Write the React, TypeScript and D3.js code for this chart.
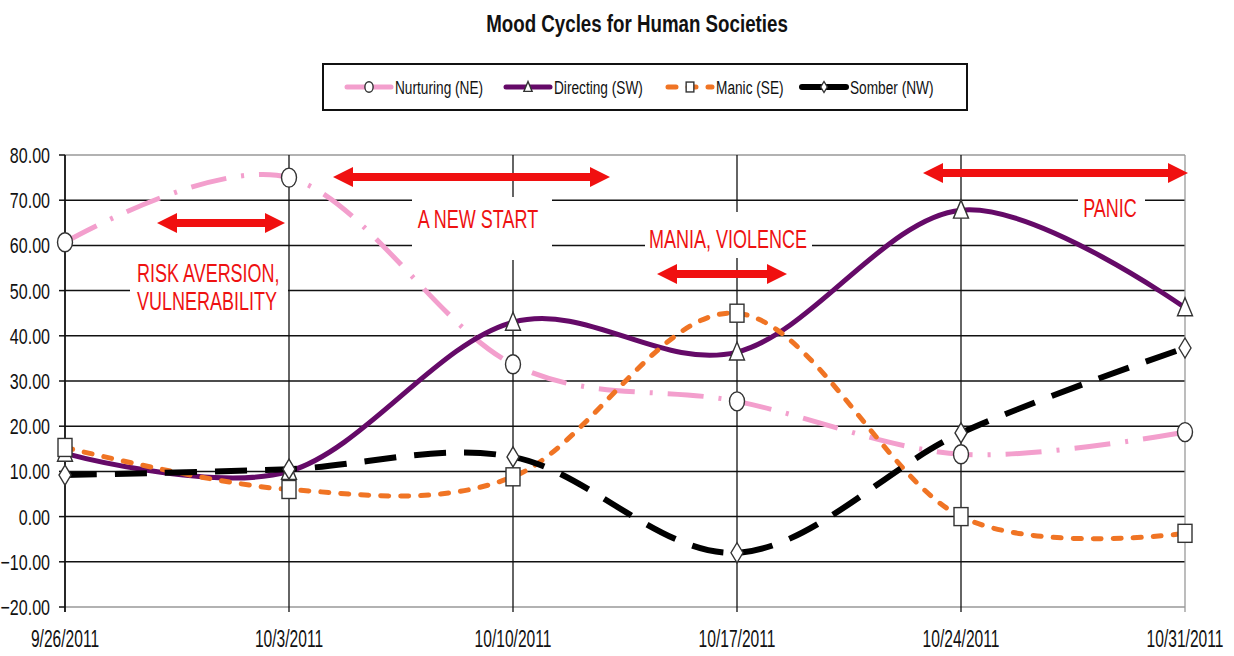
import { useEffect, useRef } from 'react';
import * as d3 from 'd3';

// chart values
const dates = ['2011-09-26', '2011-10-03', '2011-10-10', '2011-10-17', '2011-10-24', '2011-10-31'];
const nurturing = [60.7, 75.0, 33.7, 25.5, 13.8, 18.7];
const directing = [14.0, 10.0, 43.0, 36.4, 67.8, 46.2];
const manic = [15.3, 6.0, 8.8, 45.0, 0.0, -3.7];
const somber = [9.2, 10.5, 13.2, -8.0, 18.5, 37.3];
const seriesNames = ['Nurturing (NE)', 'Directing (SW)', 'Manic (SE)', 'Somber (NW)'];
const yTicks = [-20, -10, 0, 10, 20, 30, 40, 50, 60, 70, 80];
const title = 'Mood Cycles for Human Societies';

const annotations = [
  { lines: ['RISK AVERSION,', 'VULNERABILITY'], box: [130, 255, 158, 62], tx: 137, ty: 282, anchor: 'start' },
  { lines: ['A NEW START'], box: [412, 197, 140, 63], tx: 478, ty: 228, anchor: 'middle' },
  { lines: ['MANIA, VIOLENCE'], box: [645, 212, 167, 46], tx: 728, ty: 248, anchor: 'middle' },
  { lines: ['PANIC'], box: [1078, 188, 67, 35], tx: 1110, ty: 217, anchor: 'middle' },
];
const arrows = [
  [157, 285, 223],
  [333, 610, 177],
  [657, 787, 274],
  [923, 1188, 173],
];

const W = 1234;
const H = 656;
const SX = 0.73; // the reference text is horizontally condensed
const FONT = '"Liberation Sans", Arial, sans-serif';

const styles = [
  { color: '#f39fcd', width: 5, dash: '36,15,3,15', cap: 'butt', marker: 'circle' },
  { color: '#650a68', width: 5, dash: null, cap: 'round', marker: 'triangle' },
  { color: '#f07424', width: 5, dash: '8,12', cap: 'round', marker: 'square' },
  { color: '#000000', width: 6, dash: '32,18', cap: 'butt', marker: 'diamond' },
];

function addText(g, x, y, str, size, opts = {}) {
  return g
    .append('text')
    .attr('transform', `translate(${x},${y}) scale(${opts.sx ?? SX},1)`)
    .attr('text-anchor', opts.anchor || 'start')
    .style('font-family', FONT)
    .style('font-size', size + 'px')
    .style('font-weight', opts.bold ? 'bold' : 'normal')
    .style('fill', opts.fill || '#111')
    .text(str);
}

function drawMarker(g, type, cx, cy, k = 1) {
  let m;
  if (type === 'circle') {
    m = g.append('ellipse').attr('cx', cx).attr('cy', cy).attr('rx', 7.5 * k).attr('ry', 9.5 * k);
  } else if (type === 'triangle') {
    m = g.append('path').attr('d', `M${cx},${cy - 10 * k}L${cx + 7.5 * k},${cy + 8 * k}L${cx - 7.5 * k},${cy + 8 * k}Z`);
  } else if (type === 'square') {
    m = g.append('rect').attr('x', cx - 7 * k).attr('y', cy - 9 * k).attr('width', 14 * k).attr('height', 18 * k);
  } else {
    m = g.append('path').attr('d', `M${cx},${cy - 10 * k}L${cx + 6 * k},${cy}L${cx},${cy + 10 * k}L${cx - 6 * k},${cy}Z`);
  }
  m.attr('fill', 'white').attr('stroke', '#333').attr('stroke-width', 1.4);
}

const App = () => {
  const svgRef = useRef(null);

  useEffect(() => {
    const svg = d3.select(svgRef.current);
    svg.selectAll('*').remove();

    const parse = d3.timeParse('%Y-%m-%d');
    const xDates = dates.map(parse);
    const x = d3.scaleTime().domain(d3.extent(xDates)).range([65, 1185]);
    const y = d3.scaleLinear().domain([-20, 80]).range([607, 155]);
    const fmtDate = d3.timeFormat('%-m/%-d/%Y');
    const fmtY = d3.format('.2f');

    svg.append('rect').attr('width', W).attr('height', H).attr('fill', 'white');

    // Title
    addText(svg, 637, 32, title, 24, { anchor: 'middle', bold: true, sx: 0.78 });

    // Grid
    const grid = svg.append('g');
    yTicks.forEach(v => {
      const edge = v === 80 || v === -20;
      grid.append('line')
        .attr('x1', 65).attr('x2', 1185)
        .attr('y1', y(v)).attr('y2', y(v))
        .attr('stroke', edge ? '#999' : '#111')
        .attr('stroke-width', 1.5);
      grid.append('line')
        .attr('x1', 59).attr('x2', 65)
        .attr('y1', y(v)).attr('y2', y(v))
        .attr('stroke', '#111').attr('stroke-width', 1.5);
      addText(grid, 50, y(v) + 8, fmtY(v), 22, { anchor: 'end' });
    });
    xDates.forEach((d, i) => {
      const last = i === xDates.length - 1;
      grid.append('line')
        .attr('x1', x(d)).attr('x2', x(d))
        .attr('y1', 155).attr('y2', 612)
        .attr('stroke', last ? '#999' : '#111')
        .attr('stroke-width', i === 0 ? 1.8 : 1.3);
      addText(grid, x(d), 647, fmtDate(d), 24, { anchor: 'middle', sx: 0.65 });
    });

    // Series
    const allSeries = [nurturing, directing, manic, somber];
    const line = d3.line()
      .x((d, i) => x(xDates[i]))
      .y(d => y(d))
      .curve(d3.curveCatmullRom.alpha(0));

    allSeries.forEach((vals, s) => {
      const st = styles[s];
      svg.append('path')
        .datum(vals)
        .attr('fill', 'none')
        .attr('stroke', st.color)
        .attr('stroke-width', st.width)
        .attr('stroke-linecap', st.cap)
        .attr('stroke-dasharray', st.dash)
        .attr('d', line);
    });
    allSeries.forEach((vals, s) => {
      const g = svg.append('g');
      vals.forEach((v, i) => drawMarker(g, styles[s].marker, x(xDates[i]), y(v)));
    });

    // Annotations
    const ann = svg.append('g');
    annotations.forEach(a => {
      const [bx, by, bw, bh] = a.box;
      ann.append('rect').attr('x', bx).attr('y', by).attr('width', bw).attr('height', bh).attr('fill', 'white');
      a.lines.forEach((t, k) => addText(ann, a.tx, a.ty + k * 28, t, 25, { anchor: a.anchor, fill: '#ee1111', sx: 0.72 }));
    });
    arrows.forEach(([x1, x2, ay]) => {
      const hl = 20, hw = 10, sw = 4;
      const pts = [
        [x1, ay], [x1 + hl, ay - hw], [x1 + hl, ay - sw], [x2 - hl, ay - sw], [x2 - hl, ay - hw],
        [x2, ay], [x2 - hl, ay + hw], [x2 - hl, ay + sw], [x1 + hl, ay + sw], [x1 + hl, ay + hw],
      ];
      ann.append('polygon').attr('points', pts.map(p => p.join(',')).join(' ')).attr('fill', '#f01010');
    });

    // Legend
    const leg = svg.append('g');
    leg.append('rect')
      .attr('x', 323).attr('y', 64).attr('width', 644).attr('height', 46)
      .attr('fill', 'white').attr('stroke', '#111').attr('stroke-width', 2);
    const legX = [347, 506, 668, 802];
    seriesNames.forEach((name, s) => {
      const st = styles[s];
      const lx = legX[s];
      leg.append('line')
        .attr('x1', lx).attr('x2', lx + 44)
        .attr('y1', 87).attr('y2', 87)
        .attr('stroke', st.color)
        .attr('stroke-width', st.width)
        .attr('stroke-linecap', s === 2 ? 'round' : 'round')
        .attr('stroke-dasharray', s === 2 ? '8,12' : null);
      drawMarker(leg, st.marker, lx + 22, 87, 0.55);
      addText(leg, lx + 48, 94, name, 19, { sx: 0.72 });
    });
  }, []);

  return (
    <svg
      ref={svgRef}
      width={W}
      height={H}
      style={{ position: 'absolute', left: 0, top: 0, display: 'block' }}
    />
  );
};

export default App;
